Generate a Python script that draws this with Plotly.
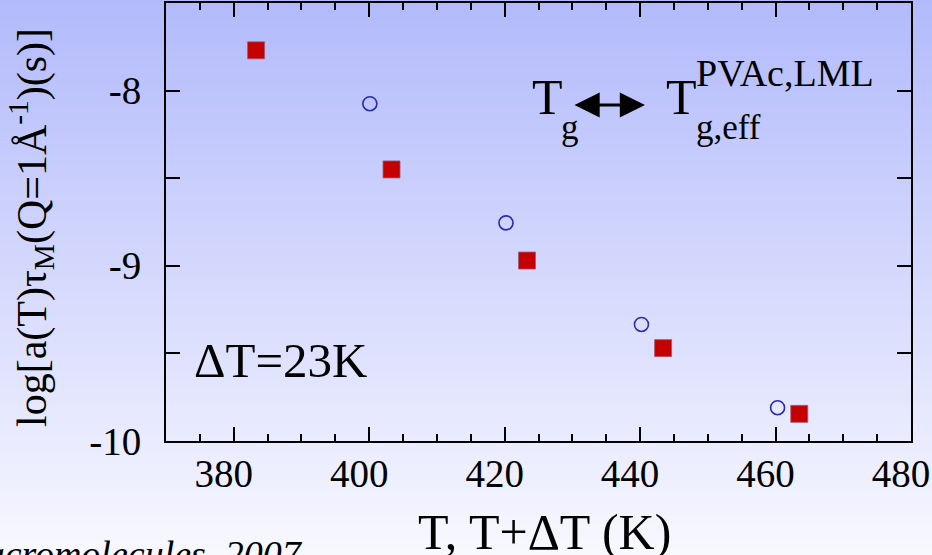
import plotly.graph_objects as go

# ---- data ----
T_shift_red = [383.3, 403.3, 423.3, 443.4, 463.5]          # T+ΔT (K)
logtau_red = [-7.77, -8.45, -8.97, -9.47, -9.845]
T_blue = [400.1, 420.2, 440.2, 460.3]                         # T (K)
logtau_blue = [-8.075, -8.755, -9.335, -9.81]

x_ticks = [380, 400, 420, 440, 460, 480]
x_ticklabels = ["380", "400", "420", "440", "460", "480"]
y_ticks = [-10, -9, -8]
y_ticklabels = ["-10", "-9", "-8"]

# ---- layout geometry (pixels) ----
W, H = 932, 555
L, R, T, B = 166, 21, 3, 114
PW, PH = W - L - R, H - T - B
PB = H - B
X0, X1 = 370, 480
LABEL_SHIFT_PX = 10  # tick labels sit slightly left of their ticks in the original


def px(xp):
    return (xp - L) / PW


def py(yp):
    return (PB - yp) / PH


SERIF = "Liberation Serif"

fig = go.Figure()
fig.add_trace(go.Scatter(
    x=T_shift_red, y=logtau_red, mode="markers",
    marker=dict(symbol="square", size=17, color="#c40000",
                line=dict(color="#9a5a78", width=0.8)),
    showlegend=False))
fig.add_trace(go.Scatter(
    x=T_blue, y=logtau_blue, mode="markers",
    marker=dict(symbol="circle-open", size=14, color="#2a2ab4",
                line=dict(width=1.6)),
    showlegend=False))
# empty trace so the label axis is instantiated
fig.add_trace(go.Scatter(x=[], y=[], xaxis="x2", yaxis="y", showlegend=False))

# background gradient (slide background)
shapes = []
n = 111
top_c = (178, 186, 251)
bot_c = (248, 248, 255)
for i in range(n):
    t = (i + 0.5) / n
    c = tuple(round(top_c[k] + (bot_c[k] - top_c[k]) * t) for k in range(3))
    y0p = i * H / n
    y1p = (i + 1) * H / n + 0.6
    shapes.append(dict(type="rect", xref="paper", yref="paper",
                       x0=px(-5), x1=px(W + 5), y0=py(y1p), y1=py(y0p),
                       fillcolor="rgb(%d,%d,%d)" % c, line=dict(width=0),
                       layer="below"))

tickfont = dict(family=SERIF, size=39, color="black")
axis_common = dict(showline=True, linecolor="black", linewidth=2, mirror="allticks",
                   ticks="inside", tickcolor="black", tickwidth=2, automargin=False,
                   showgrid=False, zeroline=False, ticklabeloverflow="allow",
                   tickfont=tickfont)

fig.update_layout(
    xaxis=dict(range=[X0, X1], tickvals=x_ticks, showticklabels=False,
               ticklen=14,
               minor=dict(dtick=5, tick0=370, ticklen=7, tickwidth=2,
                          tickcolor="black", ticks="inside", showgrid=False),
               **axis_common),
    xaxis2=dict(overlaying="x", anchor="y", side="bottom",
                range=[X0 + LABEL_SHIFT_PX * (X1 - X0) / PW,
                       X1 + LABEL_SHIFT_PX * (X1 - X0) / PW],
                tickvals=x_ticks, ticktext=x_ticklabels, ticks="",
                showline=False, showgrid=False, zeroline=False,
                automargin=False, ticklabeloverflow="allow",
                ticklabelstandoff=6, tickfont=tickfont),
    yaxis=dict(range=[-10, -7.5], tickvals=y_ticks, ticktext=y_ticklabels,
               ticklen=14, ticklabelstandoff=15,
               minor=dict(dtick=0.5, tick0=-10, ticklen=8, tickwidth=2,
                          tickcolor="black", ticks="inside", showgrid=False),
               **axis_common),
)

ann = []


def text(s, x, y, size, xanchor="left", yanchor="middle", angle=0, italic=False):
    ann.append(dict(text=s, xref="paper", yref="paper", x=px(x), y=py(y),
                    xanchor=xanchor, yanchor=yanchor, showarrow=False,
                    textangle=angle,
                    font=dict(family=SERIF, size=size, color="black",
                              style="italic" if italic else "normal")))


# axis titles
text("T, T+ΔT (K)", 544, 532, 50, xanchor="center")
text("log[a(T)τ<sub>M</sub>(Q=1Å<sup>-1</sup>)(s)]", 31, 228, 42,
     xanchor="center", angle=-90)

# inner labels
text("ΔT=23K", 192, 360, 49)
text("T", 530, 97, 50)
text("g", 559, 127, 35)
text("T", 664, 97, 50)
text("PVAc,LML", 694, 73, 38)
text("g,eff", 694, 128, 35)

# double arrow
ann.append(dict(text="", xref="paper", yref="paper", x=px(645), y=py(105),
                axref="pixel", ayref="pixel", ax=-72, ay=0, showarrow=True,
                arrowside="end+start", arrowhead=2, startarrowhead=2,
                arrowsize=1.8, startarrowsize=1.8, arrowwidth=2.8, arrowcolor="black"))

# citation (cut off at the slide edge)
text("Macromolecules, 2007", 305, 554, 38, xanchor="right", italic=True)

fig.update_layout(width=W, height=H,
                  margin=dict(l=L, r=R, t=T, b=B, pad=0),
                  paper_bgcolor="rgb(215,219,253)", plot_bgcolor="rgba(0,0,0,0)",
                  shapes=shapes, annotations=ann, showlegend=False)

fig.write_html("out.html")
